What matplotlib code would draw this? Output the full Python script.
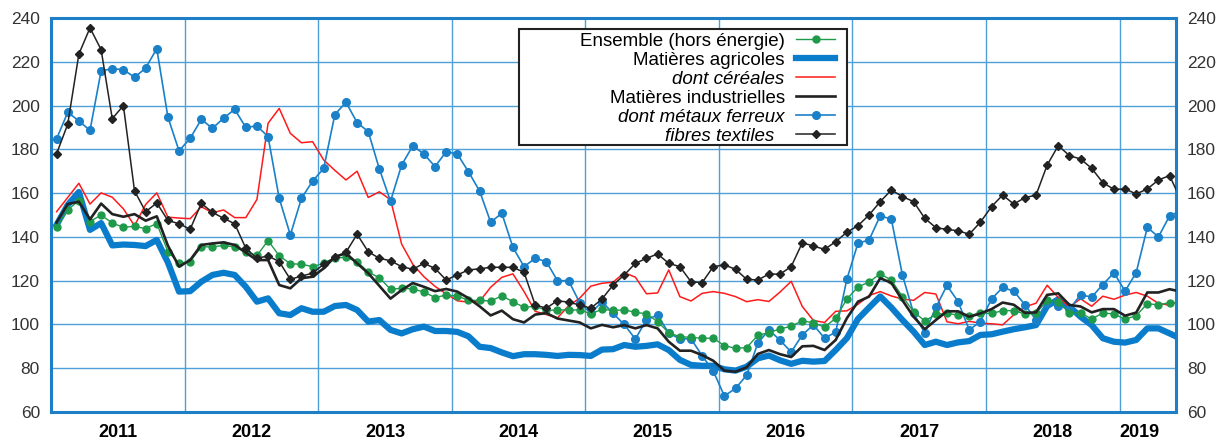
import numpy as np
import matplotlib.pyplot as plt
from matplotlib.patches import Rectangle
from matplotlib.ticker import FixedLocator, FixedFormatter

plt.rcParams['font.family'] = ['Liberation Sans', 'DejaVu Sans']

# indices mensuels, janvier 2011 -> juin 2019
mois = np.arange(102) + 0.5
annees = ['2011', '2012', '2013', '2014', '2015', '2016', '2017', '2018', '2019']

ensemble = [144.4, 152.3, 156.6, 147, 150, 146.3, 144.4, 144.8, 143.8, 146.1, 133.3, 128,
            128.7, 135.5, 135.4, 136.1, 135.4, 133.2, 131.5, 138.3, 131.4, 127.7, 127.5, 126.4,
            128, 130.4, 130.6, 128.7, 123.9, 121.3, 116.1, 116.5, 116.2, 114.8, 112.3, 113.4,
            113, 111, 111, 110.7, 113, 110.4, 107.8, 108.3, 106.4, 106.6, 106.6, 106.6,
            104.9, 106.9, 106.4, 106.6, 105.6, 104.8, 101.3, 96.2, 94.4, 94.1, 93.7, 93.7,
            90.3, 89.1, 89.4, 95, 96.3, 97.9, 99.2, 101.7, 100.7, 98.8, 102.8, 111.6,
            117.1, 119.4, 123.1, 120.2, 112.7, 105.8, 101.6, 104.6, 105, 104.3, 104, 105.2,
            105, 106.3, 106.3, 104.8, 105, 111, 110.4, 105.2, 105.2, 102.5, 105.2, 104.8,
            102.4, 104, 109.5, 108.9, 110, 110]

agricoles = [145.5, 154.6, 160.5, 143.2, 146.3, 136.1, 136.5, 136.3, 135.8, 138.6, 128.3, 115,
             115.2, 119.5, 122.6, 123.6, 122.6, 117.2, 110.4, 111.9, 105.1, 104.3, 107.4, 105.8,
             105.8, 108.4, 108.9, 106.6, 101.3, 102, 97.5, 95.9, 97.8, 99, 97, 97,
             96.6, 94.6, 89.8, 89.2, 87.2, 85.5, 86.4, 86.4, 86.1, 85.6, 86.1, 86,
             85.6, 88.5, 88.7, 90.6, 89.8, 90.2, 90.9, 88.3, 83.8, 81.5, 81.1, 81.1,
             79.5, 78.9, 80.7, 84.5, 85.8, 83.6, 82, 83.4, 83, 83.3, 88.3, 93.7,
             102.5, 107.7, 112.8, 107.7, 102, 96.7, 90.6, 92.1, 90.6, 91.8, 92.4, 95.2,
             95.5, 96.7, 97.8, 98.7, 99.7, 108.4, 111.5, 108.1, 103.5, 99.7, 93.7, 92.1,
             91.7, 92.9, 98.2, 98.2, 95.9, 93.5]

cereales = [151.5, 158, 164.5, 155, 160.1, 158.1, 152.8, 145.1, 154.8, 160.1, 149, 148.6,
            148.3, 153.8, 151, 152.3, 148.8, 148.8, 157.1, 191.9, 198.7, 187.3, 183, 183.5,
            175.1, 170.4, 166, 170, 158, 160.6, 157, 136.7, 127.5, 121.8, 117.4, 114,
            110.8, 110.2, 110.5, 117, 121.5, 123.1, 115, 106, 104.5, 103, 108.5, 112,
            117.5, 118.8, 119.3, 123.6, 121.6, 114, 114.4, 124.9, 112.7, 110.7, 114.2, 115,
            114.2, 112.7, 110.4, 111.3, 110.5, 114.8, 119.7, 108.2, 101.8, 100.9, 106, 106.2,
            109.2, 113.2, 115, 113, 111.6, 111, 114.6, 113.9, 101.2, 100.3, 101.4, 100.6,
            100.3, 99.8, 104.4, 108, 109.7, 117.9, 112.3, 108, 111.7, 108.3, 112.9, 111.5,
            113.4, 114.6, 112.9, 109.6, 108.8, 111]

industrielles = [146.6, 155, 156.1, 148, 155.2, 150.4, 149.2, 150.4, 147.4, 149.4, 136, 126.4,
                 129.4, 136.3, 137, 137.5, 136.3, 132.8, 129.4, 129.4, 118, 116.5, 121.1, 121.8,
                 125.6, 130.9, 132.5, 127.9, 123.4, 117.6, 111.8, 115.7, 118.9, 117.2, 115.2, 116.2,
                 115, 112, 108.3, 104.1, 106.3, 102.4, 100.9, 104.5, 105.2, 102.7, 101.8, 100.9,
                 98.2, 99.8, 98.7, 99.7, 98.2, 99.7, 98.2, 92.1, 88, 88, 86, 83.4,
                 78.9, 78.4, 80.4, 86.5, 88.3, 86.4, 85.1, 90, 90.2, 88.3, 92.9, 102.8,
                 110.4, 112.7, 121.1, 119, 111, 103.5, 97.8, 102, 106, 106, 103.5, 105,
                 107, 110, 109, 105.3, 105.5, 113.5, 114.2, 108.9, 108.2, 105.5, 107, 107,
                 104, 105.4, 114.6, 114.6, 116.1, 115]

metaux = [184.8, 196.9, 193, 188.6, 215.9, 216.8, 216.4, 212.9, 217.1, 226, 194.7, 179.3,
          185, 193.7, 189.6, 194.2, 198.3, 190, 190.7, 185.8, 157.6, 140.9, 157.6, 165.5,
          171.3, 195.9, 201.5, 192.2, 188.1, 171, 156.3, 172.8, 181.6, 177.9, 172.1, 178.9,
          177.9, 169.8, 161, 146.7, 150.8, 135.2, 126.4, 130.2, 128.7, 120, 120, 109.9,
          105.1, 110.4, 105, 100, 93.3, 102.2, 104.3, 96, 93.4, 93.4, 85.7, 78.7,
          67.3, 70.8, 76.8, 91.4, 97.5, 92.8, 87.4, 95.2, 99.8, 93.7, 96.5, 120.6,
          137.1, 138.6, 149.6, 148.1, 122.5, 105.1, 96.1, 107.8, 117.8, 110.4, 97.5, 101.3,
          111.6, 116.9, 115.2, 109, 102, 110, 108.5, 107, 113.5, 112.5, 118.2, 123.6,
          115.2, 123.7, 144.3, 140, 149.6, 152]

fibres = [178, 191.5, 223.5, 235.5, 225.5, 194, 200, 161, 151.5, 155.5, 147.5, 146,
          143.5, 155.3, 151.2, 148.5, 146, 134.8, 130.2, 131.3, 128.7, 120.6, 122.1, 123.4,
          127.5, 130.7, 133, 141.2, 133.2, 130.2, 129.1, 126.4, 125.2, 127.9, 125.6, 120.3,
          122.6, 124.9, 125.4, 126.1, 126.1, 126.1, 123.8, 108.9, 107.4, 110.9, 110.1, 108.9,
          107.4, 111.6, 118, 122.6, 127.9, 130.2, 132.2, 127.9, 126.4, 119.5, 119.1, 126.4,
          127.2, 125.2, 120.6, 120.3, 123, 123, 126.4, 137.3, 135.8, 134.3, 137.8, 142.1,
          145.1, 150, 156.1, 161.4, 158.4, 156.1, 148.5, 144.2, 143.4, 142.8, 141.2, 146.7,
          153.8, 159.1, 155, 157.9, 159.1, 172.8, 181.7, 177.1, 175.6, 171.3, 164.8, 161.7,
          161.9, 159.6, 161.9, 166, 168, 157]

bleu_cadre = '#1f7fc6'
bleu_grille = '#4f9fd9'

fig = plt.figure(figsize=(12.27, 4.41), dpi=100)
ax = fig.add_axes([0.0416, 0.0658, 0.9166, 0.8934])

ax.plot(mois, agricoles, color='#0a7ccc', lw=4.5, zorder=3, label='Matières agricoles')
ax.plot(mois, cereales, color='#ff1a1a', lw=1.1, zorder=4, label='dont céréales')
ax.plot(mois, industrielles, color='#222222', lw=1.9, zorder=5, label='Matières industrielles')
ax.plot(mois, metaux, color='#1a80c8', lw=1.2, marker='o', ms=5.5, zorder=4,
        label='dont métaux ferreux')
ax.plot(mois, fibres, color='#222222', lw=1.1, marker='D', ms=3.8, zorder=5,
        label='fibres textiles  ')
ax.plot(mois, ensemble, color='#1f9a4a', lw=1.0, marker='o', ms=5, zorder=4,
        label='Ensemble (hors énergie)')

ax.set_xlim(0, 101.05)
ax.set_ylim(60, 240)
ax.set_yticks(np.arange(60, 241, 20))

# grille verticale aux changements d'annee, etiquettes au milieu de chaque annee
ax.xaxis.set_major_locator(FixedLocator(np.arange(0, 97, 12)))
ax.xaxis.set_major_formatter(FixedFormatter([''] * 9))
centres = list(np.arange(6, 91, 12)) + [97.8]
ax.xaxis.set_minor_locator(FixedLocator(centres))
ax.xaxis.set_minor_formatter(FixedFormatter(annees))
ax.tick_params(axis='x', which='both', length=0)
ax.tick_params(axis='x', which='minor', pad=9, labelsize=13)
for t in ax.xaxis.get_minorticklabels():
    t.set_fontweight('bold')

ax.tick_params(axis='y', length=0, labelsize=12.5, labelcolor='#333333',
               labelright=True, pad=8)

ax.grid(True, which='major', color=bleu_grille, lw=1.0)
ax.set_axisbelow(True)
for s in ax.spines.values():
    s.set_color(bleu_cadre)
    s.set_linewidth(2.2)

# cadre de la legende dessine a part (plus large que le contenu)
cadre = Rectangle((0.416, 0.678), 0.292, 0.294, transform=ax.transAxes,
                  facecolor='white', edgecolor='#222222', lw=1.5, zorder=9)
ax.add_patch(cadre)

h, l = ax.get_legend_handles_labels()
ordre = [5, 0, 1, 2, 3, 4]
leg = ax.legend([h[k] for k in ordre], [l[k] for k in ordre], loc='upper right',
                bbox_to_anchor=(0.699, 0.967), borderaxespad=0, markerfirst=False,
                fontsize=13.5, labelspacing=0.1, handlelength=2.1, handletextpad=0.6,
                borderpad=0.1, frameon=False)
leg.set_zorder(10)
for txt in leg.get_texts():
    if txt.get_text().startswith('dont') or txt.get_text().startswith('fibres'):
        txt.set_fontstyle('italic')

fig.savefig('out.png', dpi=100)
